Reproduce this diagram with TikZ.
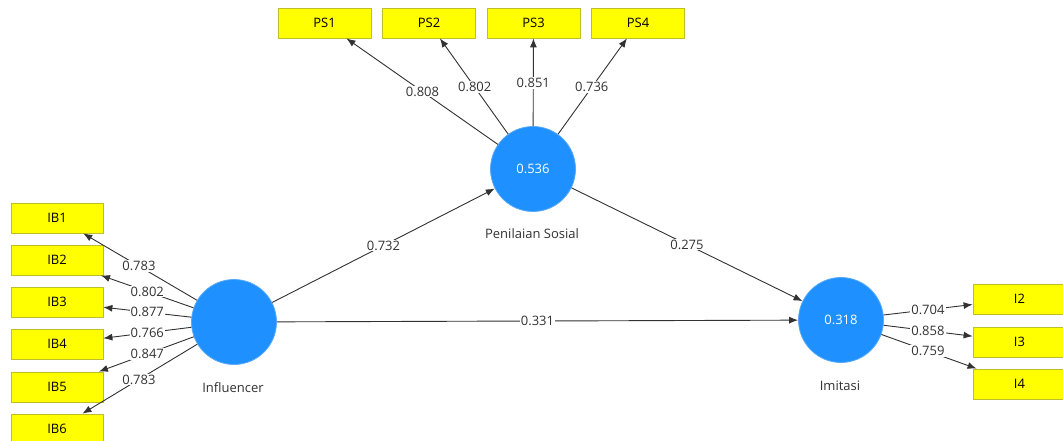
\documentclass[tikz,border=0pt]{standalone}
\usepackage{fontspec}
\setmainfont{Open Sans}
\usetikzlibrary{arrows.meta,calc}
\definecolor{lvblue}{RGB}{30,144,255}
\definecolor{lvedge}{RGB}{90,170,250}
\definecolor{boxyel}{RGB}{255,255,0}
\definecolor{boxedge}{RGB}{190,190,40}
\definecolor{linegray}{RGB}{50,50,50}
\begin{document}
\begin{tikzpicture}[x=1pt,y=-1pt,
  indbox/.style={rectangle,fill=boxyel,draw=boxedge,line width=0.8pt,minimum width=92pt,minimum height=30pt,inner sep=0pt,font=\fontsize{13}{15}\selectfont,text=black},
  latent/.style={circle,fill=lvblue,draw=lvedge,line width=0.8pt,minimum size=85pt,inner sep=0pt,text=white,font=\fontsize{13}{15}\selectfont},
  lvname/.style={font=\fontsize{13}{15}\selectfont,text=linegray},
  arr/.style={draw=linegray,line width=0.9pt,-{Latex[length=9pt,width=7pt]}},
  lab/.style={fill=white,inner sep=1pt,font=\fontsize{13}{15}\selectfont,text=linegray}
]
\useasboundingbox[fill=white] (0,0) rectangle (1063,441);

% latent variables
\node[latent] (inf) at (234,322) {};
\node[latent] (pen) at (533,169) {0.536};
\node[latent] (imi) at (841,320) {0.318};
\node[lvname] (infl) at (233,388) {Influencer};
\node[lvname] (penl) at (532,234) {Penilaian Sosial};
\node[lvname] (imil) at (840,386) {Imitasi};

% indicators
\node[indbox] (ib1) at (57,218) {IB1};
\node[indbox] (ib2) at (57,260) {IB2};
\node[indbox] (ib3) at (57,302) {IB3};
\node[indbox] (ib4) at (57,344) {IB4};
\node[indbox] (ib5) at (57,387) {IB5};
\node[indbox] (ib6) at (57,429) {IB6};

\node[indbox,minimum width=93pt] (ps1) at (324.5,23) {PS1};
\node[indbox,minimum width=93pt] (ps2) at (429,23) {PS2};
\node[indbox,minimum width=93pt] (ps3) at (533.5,23) {PS3};
\node[indbox,minimum width=93pt] (ps4) at (638,23) {PS4};

\node[indbox,minimum width=93pt] (i2) at (1019.5,299) {I2};
\node[indbox,minimum width=93pt] (i3) at (1019.5,342) {I3};
\node[indbox,minimum width=93pt] (i4) at (1019.5,384) {I4};

% outer loadings: Influencer
\draw[arr] (inf) -- (ib1);
\draw[arr] (inf) -- (ib2);
\draw[arr] (inf) -- (ib3);
\draw[arr] (inf) -- (ib4);
\draw[arr] (inf) -- (ib5);
\draw[arr] (inf) -- (ib6);
\node[lab] at ($(inf.center)!0.537!(ib1.center)$) {0.783};
\node[lab] at ($(inf.center)!0.49!(ib2.center)$) {0.802};
\node[lab] at ($(inf.center)!0.49!(ib3.center)$) {0.877};
\node[lab] at ($(inf.center)!0.49!(ib4.center)$) {0.766};
\node[lab] at ($(inf.center)!0.49!(ib5.center)$) {0.847};
\node[lab] at ($(inf.center)!0.537!(ib6.center)$) {0.783};

% outer loadings: Penilaian Sosial
\draw[arr] (pen) -- (ps1);
\draw[arr] (pen) -- (ps2);
\draw[arr] (pen) -- (ps3);
\draw[arr] (pen) -- (ps4);
\node[lab] at ($(pen.center)!0.53!(ps1.center)$) {0.808};
\node[lab] at ($(pen.center)!0.56!(ps2.center)$) {0.802};
\node[lab] at ($(pen.center)!0.59!(ps3.center)$) {0.851};
\node[lab] at ($(pen.center)!0.56!(ps4.center)$) {0.736};

% outer loadings: Imitasi
\draw[arr] (imi) -- (i2);
\draw[arr] (imi) -- (i3);
\draw[arr] (imi) -- (i4);
\node[lab] at ($(imi.center)!0.487!(i2.center)$) {0.704};
\node[lab] at ($(imi.center)!0.487!(i3.center)$) {0.858};
\node[lab] at ($(imi.center)!0.487!(i4.center)$) {0.759};

% structural paths
\draw[arr] (inf) -- (pen) node[lab,midway] {0.732};
\draw[arr] (pen) -- (imi) node[lab,midway] {0.275};
\draw[arr] (inf) -- (imi) node[lab,midway] {0.331};
\end{tikzpicture}
\end{document}
